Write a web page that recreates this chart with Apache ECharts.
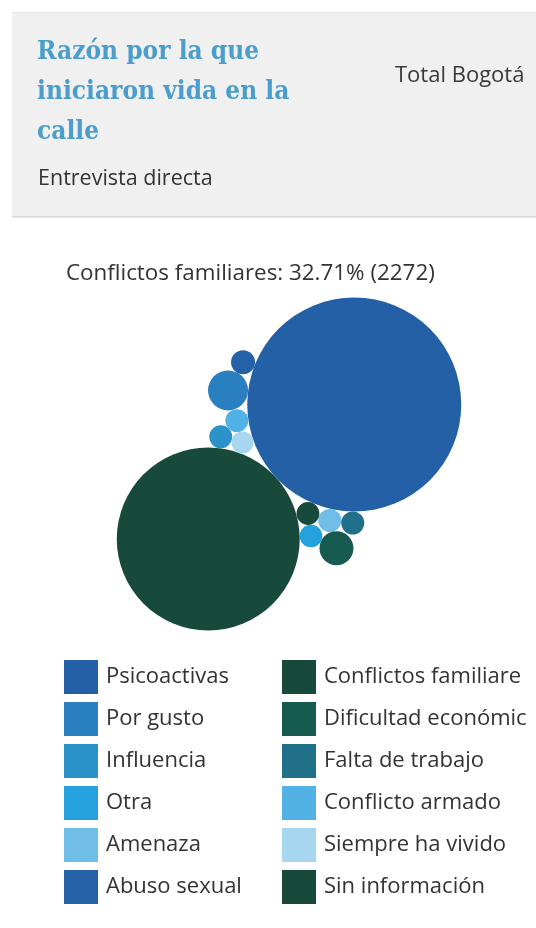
<!DOCTYPE html>
<html><head><meta charset="utf-8">
<script src="https://cdn.jsdelivr.net/npm/echarts@6/dist/echarts.min.js"></script>
<style>html,body{margin:0;padding:0;background:#fff}#c{width:536px;height:928px}</style>
</head><body><div id="c"></div>
<script>
// ---- data ----
const categories = ['Psicoactivas','Por gusto','Influencia','Otra','Amenaza','Abuso sexual',
  'Conflictos familiares','Dificultad económica','Falta de trabajo','Conflicto armado','Siempre ha vivido','Sin información'];
const values = [2681, 387, 162, 158, 165, 176, 2272, 308, 163, 163, 150, 161];
const highlighted = 'Conflictos familiares';
const titleLines = ['Razón por la que','iniciaron vida en la','calle'];
const subtitle = 'Entrevista directa';
const region = 'Total Bogotá';

// ---- styles ----
const colors = ['#2360a6','#2a7fc1','#2b91c9','#23a2dd','#70bee8','#2461a6',
  '#174a3b','#165a50','#1f7088','#52b2e5','#a7d6f1','#174a3b'];

const MIN_D = 22, MAX_D = 214;
const vMin = Math.min(...values), vMax = Math.max(...values);
const radiusOf = v => (MIN_D + (v - vMin) / (vMax - vMin) * (MAX_D - MIN_D)) / 2;

// packing rules: each circle placed tangent to previously placed circles
const packRules = [
  {name:'Psicoactivas'},
  {name:'Conflictos familiares', at:'Psicoactivas', angle:137.35},
  {name:'Siempre ha vivido', a:'Psicoactivas', b:'Conflictos familiares', side:1},
  {name:'Conflicto armado', a:'Psicoactivas', b:'Siempre ha vivido', side:1},
  {name:'Por gusto', a:'Psicoactivas', b:'Conflicto armado', side:1},
  {name:'Abuso sexual', a:'Psicoactivas', b:'Por gusto', side:1},
  {name:'Influencia', a:'Siempre ha vivido', b:'Conflictos familiares', side:1},
  {name:'Sin información', a:'Psicoactivas', b:'Conflictos familiares', side:-1},
  {name:'Amenaza', a:'Psicoactivas', b:'Sin información', side:-1},
  {name:'Falta de trabajo', a:'Psicoactivas', b:'Amenaza', side:-1},
  {name:'Otra', a:'Conflictos familiares', b:'Sin información', side:1},
  {name:'Dificultad económica', a:'Otra', b:'Amenaza', side:1}
];

const circ = {};
categories.forEach((c, i) => { circ[c] = {r: radiusOf(values[i])}; });
packRules.forEach(rule => {
  const c = circ[rule.name];
  if (!rule.at && !rule.a) { c.x = 0; c.y = 0; return; }
  if (rule.at) {
    const A = circ[rule.at], d = A.r + c.r, t = rule.angle * Math.PI / 180;
    c.x = A.x + d * Math.cos(t); c.y = A.y + d * Math.sin(t); return;
  }
  const A = circ[rule.a], B = circ[rule.b];
  const d1 = A.r + c.r, d2 = B.r + c.r;
  const dx = B.x - A.x, dy = B.y - A.y, d = Math.hypot(dx, dy);
  const ux = dx / d, uy = dy / d, nx = -uy, ny = ux;
  const along = (d1 * d1 - d2 * d2 + d * d) / (2 * d);
  const h = Math.sqrt(Math.max(0, d1 * d1 - along * along));
  c.x = A.x + along * ux + rule.side * h * nx;
  c.y = A.y + along * uy + rule.side * h * ny;
});

let x0 = Infinity, x1 = -Infinity, y0 = Infinity, y1 = -Infinity;
Object.values(circ).forEach(c => {
  x0 = Math.min(x0, c.x - c.r); x1 = Math.max(x1, c.x + c.r);
  y0 = Math.min(y0, c.y - c.r); y1 = Math.max(y1, c.y + c.r);
});
const W = 536, H = 928, CX = 289, CY = 464;
const bcx = (x0 + x1) / 2, bcy = (y0 + y1) / 2;

const total = values.reduce((s, v) => s + v, 0);
const hv = values[categories.indexOf(highlighted)];
const hoverText = highlighted + ': ' + (hv / total * 100).toFixed(2) + '% (' + hv + ')';

const FONT = '"Open Sans", "Noto Sans", sans-serif';
const LEG_FS = 22;

const chart = echarts.init(document.getElementById('c'));
const series = categories.map((c, i) => ({
  type: 'scatter', name: c,
  data: [[circ[c].x, circ[c].y, values[i]]],
  symbolSize: circ[c].r * 2,
  itemStyle: {color: colors[i], opacity: 1},
  emphasis: {scale: false}
}));

const legendBase = {
  orient: 'vertical', top: 660, padding: 0,
  itemWidth: 34, itemHeight: 34, itemGap: 8, icon: 'rect',
  textStyle: {fontSize: LEG_FS, fontFamily: FONT, color: '#333', padding: [0, 0, 0, 3]}
};

chart.setOption({
  animation: false,
  grid: {left: 0, right: 0, top: 0, bottom: 0},
  xAxis: {type: 'value', show: false, min: bcx - CX, max: bcx + (W - CX)},
  yAxis: {type: 'value', show: false, inverse: true, min: bcy - CY, max: bcy + (H - CY)},
  tooltip: {trigger: 'item', formatter: p => p.seriesName + ': ' + (p.value[2] / total * 100).toFixed(2) + '% (' + p.value[2] + ')'},
  legend: [
    Object.assign({}, legendBase, {left: 64, data: categories.slice(0, 6)}),
    Object.assign({}, legendBase, {left: 282,
      data: categories.slice(6).map(c => ({name: c, textStyle: {width: 204, overflow: 'truncate', ellipsis: ''}}))})
  ],
  graphic: [
    {type: 'rect', shape: {x: 12, y: 13, width: 530, height: 203}, style: {fill: '#f0f0f0'}, z: -10},
    {type: 'rect', shape: {x: 12, y: 12, width: 530, height: 1}, style: {fill: '#e6e6e6'}, z: -9},
    {type: 'rect', shape: {x: 12, y: 216, width: 530, height: 1.5}, style: {fill: '#d9d9d9'}, z: -9},
    ...titleLines.map((t, i) => ({
      type: 'text', x: 37, y: 52 + i * 40,
      style: {text: t, fill: '#4a9dcd', font: 'bold 26px "DejaVu Serif Condensed", "DejaVu Serif", serif', verticalAlign: 'middle'}
    })),
    {type: 'text', x: 395, y: 76, style: {text: region, fill: '#3a3a3a', font: '22px ' + FONT, verticalAlign: 'middle'}},
    {type: 'text', x: 38, y: 179, style: {text: subtitle, fill: '#333', font: '21.5px ' + FONT, verticalAlign: 'middle'}},
    {type: 'text', x: 66, y: 274, style: {text: hoverText, fill: '#333', font: '22.4px ' + FONT, verticalAlign: 'middle'}}
  ],
  series
});
</script></body></html>
